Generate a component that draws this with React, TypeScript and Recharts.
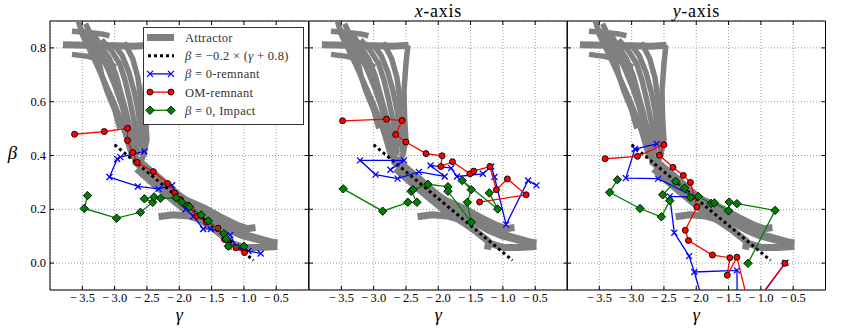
import React from "react";
import { CartesianGrid, Legend, ReferenceArea, Scatter, ScatterChart, XAxis, YAxis } from "recharts";

type Pt = [number, number];

const xTicks = [-3.5, -3, -2.5, -2, -1.5, -1, -0.5];
const yTicks = [0, 0.2, 0.4, 0.6, 0.8];
const xDomain: [number, number] = [-4, 0];
const yDomain: [number, number] = [-0.1, 0.9];
const panelTitles = ["", "x", "y"];

// attractor strands (same in all panels)
const attrFlagMain: Pt[] = [[-3.8, 0.812], [-3.4, 0.81], [-3.0, 0.808], [-2.7, 0.806], [-2.46, 0.81]];
const attrFlagTop: Pt[] = [[-3.66, 0.862], [-3.45, 0.858], [-3.2, 0.852], [-3.08, 0.845]];
const attrFlagLow: Pt[] = [[-3.66, 0.776], [-3.4, 0.768], [-3.15, 0.75], [-2.98, 0.728]];
const attrUp1: Pt[] = [[-3.56, 0.9], [-3.5, 0.85], [-3.4, 0.8], [-3.28, 0.74], [-3.15, 0.67], [-3.02, 0.6], [-2.9, 0.53], [-2.82, 0.47], [-2.76, 0.42], [-2.72, 0.39]];
const attrUp2: Pt[] = [[-3.45, 0.89], [-3.35, 0.84], [-3.22, 0.78], [-3.1, 0.72], [-2.98, 0.65], [-2.88, 0.58], [-2.8, 0.51], [-2.74, 0.45], [-2.7, 0.39]];
const attrUp3: Pt[] = [[-3.35, 0.86], [-3.22, 0.81], [-3.08, 0.76], [-2.98, 0.7], [-2.9, 0.63], [-2.82, 0.56], [-2.75, 0.49], [-2.68, 0.42]];
const attrUp4: Pt[] = [[-3.2, 0.83], [-3.05, 0.79], [-2.92, 0.74], [-2.84, 0.68], [-2.77, 0.61], [-2.7, 0.53], [-2.65, 0.46], [-2.64, 0.4]];
const attrUp5: Pt[] = [[-3.0, 0.81], [-2.88, 0.77], [-2.78, 0.71], [-2.7, 0.64], [-2.64, 0.57], [-2.6, 0.5], [-2.6, 0.43]];
const attrUp6: Pt[] = [[-2.85, 0.82], [-2.72, 0.76], [-2.64, 0.69], [-2.6, 0.62], [-2.56, 0.55], [-2.54, 0.48], [-2.56, 0.41]];
const attrUp7: Pt[] = [[-2.47, 0.81], [-2.5, 0.74], [-2.53, 0.64], [-2.52, 0.54], [-2.5, 0.46], [-2.54, 0.41], [-2.6, 0.37]];
const attrUp8: Pt[] = [[-3.52, 0.87], [-3.4, 0.83], [-3.25, 0.76], [-3.2, 0.7], [-3.12, 0.64], [-3.0, 0.57], [-2.92, 0.5]];
const attrBandTop: Pt[] = [[-2.72, 0.4], [-2.45, 0.34], [-2.2, 0.285], [-1.9, 0.235], [-1.62, 0.205], [-1.35, 0.17], [-1.1, 0.14], [-0.95, 0.128], [-0.82, 0.132]];
const attrBandMid: Pt[] = [[-2.7, 0.38], [-2.4, 0.32], [-2.1, 0.26], [-1.8, 0.2], [-1.5, 0.16], [-1.2, 0.12], [-1.0, 0.1], [-0.75, 0.085], [-0.48, 0.075]];
const attrBandMid2: Pt[] = [[-2.68, 0.39], [-2.3, 0.315], [-2.0, 0.25], [-1.7, 0.19], [-1.4, 0.152], [-1.15, 0.12], [-0.9, 0.1], [-0.6, 0.08]];
const attrBandLow: Pt[] = [[-2.66, 0.35], [-2.4, 0.295], [-2.15, 0.245], [-1.9, 0.195], [-1.62, 0.152], [-1.4, 0.115], [-1.22, 0.08], [-1.24, 0.05]];
const attrWedge: Pt[] = [[-2.32, 0.172], [-2.1, 0.18], [-1.85, 0.175], [-1.6, 0.158]];
const attrTail: Pt[] = [[-1.22, 0.075], [-1.0, 0.058], [-0.75, 0.058], [-0.48, 0.062]];

const thinStrands = [attrFlagTop, attrFlagLow, attrUp1, attrUp2, attrUp3, attrUp4, attrUp5, attrUp6, attrUp7, attrUp8];
const bandStrands = [attrFlagMain, attrBandTop, attrBandMid, attrBandMid2, attrBandLow, attrWedge, attrTail];

const fitLine: Pt[] = [[-3.0, 0.44], [-0.85, 0.01]];

// panel 1 (no axis label)
const p1Blue: Pt[] = [[-2.54, 0.415], [-2.91, 0.394], [-2.96, 0.387], [-3.08, 0.32], [-2.64, 0.285], [-2.32, 0.276], [-2.11, 0.29], [-2.05, 0.25], [-1.9, 0.2], [-1.78, 0.174], [-1.63, 0.127], [-1.51, 0.127], [-1.21, 0.105], [-1.12, 0.06], [-0.93, 0.045], [-0.74, 0.036]];
const p1Red: Pt[] = [[-3.62, 0.479], [-3.16, 0.489], [-2.8, 0.501], [-2.8, 0.456], [-2.72, 0.411], [-2.65, 0.374], [-2.4, 0.34], [-2.18, 0.296], [-2.07, 0.261], [-1.98, 0.236], [-1.87, 0.215], [-1.73, 0.174], [-1.58, 0.153], [-1.4, 0.13], [-1.3, 0.088], [-1.12, 0.057], [-0.99, 0.039]];
const p1Green: Pt[] = [[-3.42, 0.251], [-3.47, 0.203], [-2.97, 0.167], [-2.6, 0.189], [-2.41, 0.226], [-2.54, 0.239], [-2.39, 0.246], [-2.29, 0.241], [-2.05, 0.243], [-1.96, 0.226], [-1.84, 0.209], [-1.66, 0.179], [-1.55, 0.157], [-1.31, 0.11], [-1.27, 0.09], [-1.24, 0.063], [-1.0, 0.063]];

// panel 2 (x-axis)
const p2Blue: Pt[] = [[-2.74, 0.347], [-2.53, 0.382], [-3.21, 0.382], [-2.97, 0.329], [-2.63, 0.314], [-2.3, 0.339], [-1.9, 0.322], [-2.12, 0.363], [-1.8, 0.353], [-1.71, 0.322], [-1.31, 0.332], [-1.18, 0.359], [-1.13, 0.32], [-0.95, 0.143], [-0.61, 0.307], [-0.48, 0.289]];
const p2Red: Pt[] = [[-3.48, 0.529], [-2.8, 0.535], [-2.56, 0.53], [-2.66, 0.478], [-2.5, 0.45], [-2.19, 0.407], [-1.94, 0.399], [-1.96, 0.359], [-1.78, 0.377], [-1.51, 0.332], [-1.45, 0.342], [-1.2, 0.359], [-1.1, 0.273], [-0.93, 0.313], [-0.64, 0.254], [-1.36, 0.227]];
const p2Green: Pt[] = [[-3.47, 0.276], [-2.86, 0.193], [-2.47, 0.226], [-2.33, 0.226], [-2.42, 0.267], [-2.39, 0.273], [-2.16, 0.293], [-1.85, 0.284], [-1.85, 0.267], [-1.49, 0.152], [-1.55, 0.226], [-1.49, 0.273], [-1.63, 0.307], [-1.08, 0.201], [-1.21, 0.261]];

// panel 3 (y-axis)
const p3Blue: Pt[] = [[-2.61, 0.443], [-2.95, 0.424], [-3.09, 0.316], [-2.59, 0.314], [-2.02, 0.245], [-2.41, 0.248], [-2.34, 0.113], [-2.11, 0.026], [-2.03, -0.033], [-1.37, -0.027], [-1.36, -0.35], [-1.54, -0.3], [-0.62, 0.001]];
const p3BlueBranch: Pt[] = [[-2.03, -0.033], [-1.71, -0.3]];
const p3Red: Pt[] = [[-3.41, 0.388], [-2.91, 0.397], [-2.5, 0.44], [-2.57, 0.401], [-2.36, 0.356], [-2.2, 0.326], [-2.09, 0.3], [-1.99, 0.209], [-2.17, 0.122], [-2.12, 0.084], [-1.75, 0.03], [-1.48, 0.02], [-1.52, -0.045], [-1.37, 0.022], [-1.17, -0.175], [-0.63, -0.001]];
const p3Green: Pt[] = [[-3.22, 0.31], [-3.34, 0.263], [-2.87, 0.203], [-2.54, 0.172], [-2.41, 0.232], [-2.52, 0.254], [-2.32, 0.304], [-2.18, 0.279], [-2.09, 0.244], [-1.97, 0.248], [-1.77, 0.222], [-1.72, 0.224], [-1.5, 0.194], [-1.49, 0.227], [-1.37, 0.221], [-0.78, 0.196], [-1.2, -0.001]];

const FONT = '"Liberation Serif"';
const PLOT_TOP = 21;
const PLOT_BOTTOM = 290;
const PLOT_W = 258.5;
const Y_AXIS_W = 50;
const panelLefts = [50, 308.5, 567];

const BLUE = "#0000ff";
const RED = "#ff0000";
const GREEN = "#008000";
const GRAY = "#808080";

const toXY = (pts: Pt[]) => pts.map(([x, y]) => ({ x, y }));

const fmt = (v: number) => (v < 0 ? `\u2212\u2009${Math.abs(v).toFixed(1)}` : v.toFixed(1));

const XMark = ({ cx, cy }: any) => (
  <path
    d={`M${cx - 3},${cy - 3}L${cx + 3},${cy + 3}M${cx - 3},${cy + 3}L${cx + 3},${cy - 3}`}
    stroke={BLUE}
    strokeWidth={1.3}
    fill="none"
  />
);
const Dot = ({ cx, cy }: any) => <circle cx={cx} cy={cy} r={3} fill={RED} stroke="#000" strokeWidth={0.9} />;
const Diamond = ({ cx, cy }: any) => (
  <path d={`M${cx},${cy - 4.2}L${cx + 4.2},${cy}L${cx},${cy + 4.2}L${cx - 4.2},${cy}Z`} fill={GREEN} stroke="#000" strokeWidth={0.9} />
);
const NoMark = () => <g />;

const txt = (size: number, extra: React.CSSProperties = {}): React.CSSProperties => ({ fontFamily: FONT, fontSize: size, ...extra });

const XTick = (props: any) => {
  const { x, payload } = props;
  return (
    <g>
      <line x1={x} x2={x} y1={PLOT_BOTTOM} y2={PLOT_BOTTOM - 4} stroke="#000" />
      <line x1={x} x2={x} y1={PLOT_TOP} y2={PLOT_TOP + 4} stroke="#000" />
      <text x={x} y={302} textAnchor="middle" fill="#000" style={txt(12.5)}>
        {fmt(payload.value)}
      </text>
    </g>
  );
};

const makeYTick = (showLabel: boolean) => (props: any) => {
  const { y, payload } = props;
  const right = Y_AXIS_W + PLOT_W;
  return (
    <g>
      <line x1={Y_AXIS_W} x2={Y_AXIS_W + 4} y1={y} y2={y} stroke="#000" />
      <line x1={right - 4} x2={right} y1={y} y2={y} stroke="#000" />
      {showLabel && (
        <text x={Y_AXIS_W - 4} y={y + 4} textAnchor="end" fill="#000" style={txt(12.5)}>
          {payload.value.toFixed(1)}
        </text>
      )}
    </g>
  );
};

const legendRows = ["Attractor", "OM-remnant"];

const LegendBox = () => {
  const rowY = (i: number) => 10.5 + i * 18.2;
  const tx = 42;
  const ts = txt(12.5, { letterSpacing: 0.3 });
  return (
    <svg width={161} height={98} style={{ display: "block" }}>
      <rect x={0.5} y={0.5} width={160} height={97} fill="#fff" stroke="#333" strokeWidth={1} />
      <rect x={4} y={rowY(0) - 3.5} width={27} height={7} fill={GRAY} />
      <text x={tx} y={rowY(0) + 4.5} fill="#333" style={ts}>{legendRows[0]}</text>

      <line x1={5} x2={31} y1={rowY(1)} y2={rowY(1)} stroke="#000" strokeWidth={3} strokeDasharray="3 3" />
      <text x={tx} y={rowY(1) + 4.5} fill="#333" style={ts}>
        <tspan fontStyle="italic">β</tspan> = −0.2 × (<tspan fontStyle="italic">γ</tspan> + 0.8)
      </text>

      <line x1={7} x2={28} y1={rowY(2)} y2={rowY(2)} stroke={BLUE} strokeWidth={1.3} />
      <XMark cx={7} cy={rowY(2)} />
      <XMark cx={28} cy={rowY(2)} />
      <text x={tx} y={rowY(2) + 4.5} fill="#333" style={ts}>
        <tspan fontStyle="italic">β</tspan> = 0-remnant
      </text>

      <line x1={7} x2={28} y1={rowY(3)} y2={rowY(3)} stroke={RED} strokeWidth={1.3} />
      <Dot cx={7} cy={rowY(3)} />
      <Dot cx={28} cy={rowY(3)} />
      <text x={tx} y={rowY(3) + 4.5} fill="#333" style={ts}>{legendRows[1]}</text>

      <line x1={7} x2={28} y1={rowY(4)} y2={rowY(4)} stroke={GREEN} strokeWidth={1.3} />
      <Diamond cx={7} cy={rowY(4)} />
      <Diamond cx={28} cy={rowY(4)} />
      <text x={tx} y={rowY(4) + 4.5} fill="#333" style={ts}>
        <tspan fontStyle="italic">β</tspan> = 0, Impact
      </text>
    </svg>
  );
};

type PanelProps = {
  index: number;
  blue: Pt[];
  red: Pt[];
  green: Pt[];
  blueExtra?: Pt[];
};

function Panel({ index, blue, red, green, blueExtra }: PanelProps) {
  const title = panelTitles[index];
  const AxisLabels = (props: any) => {
    const vb = props.viewBox || {};
    const cx = vb.x + vb.width / 2;
    return (
      <g>
        <text x={cx} y={320.5} textAnchor="middle" fill="#000" style={txt(18, { fontStyle: "italic" })}>
          γ
        </text>
        {title && (
          <text x={cx} y={17} textAnchor="middle" fill="#000" style={txt(18, { letterSpacing: 0.7 })}>
            <tspan fontStyle="italic">{title}</tspan>-axis
          </text>
        )}
      </g>
    );
  };
  return (
    <div style={{ position: "absolute", left: panelLefts[index] - Y_AXIS_W, top: 0, fontFamily: FONT }}>
      <ScatterChart
        width={Y_AXIS_W + PLOT_W + 12}
        height={330}
        margin={{ top: PLOT_TOP, right: 12, bottom: 0, left: 0 }}
        style={{ fontFamily: FONT }}
      >
        <CartesianGrid stroke="#9a9a9a" strokeDasharray="1 2" />
        <XAxis
          type="number"
          dataKey="x"
          domain={xDomain}
          ticks={xTicks}
          interval={0}
          allowDataOverflow
          height={40}
          axisLine={false}
          tickLine={false}
          tick={XTick}
          label={{ content: AxisLabels }}
        />
        <YAxis
          type="number"
          dataKey="y"
          domain={yDomain}
          ticks={yTicks}
          interval={0}
          allowDataOverflow
          width={Y_AXIS_W}
          axisLine={false}
          tickLine={false}
          tick={makeYTick(index === 0)}
          label={
            index === 0
              ? {
                  content: () => (
                    <text x={12.5} y={159} textAnchor="middle" fill="#000" style={txt(19, { fontStyle: "italic" })}>
                      β
                    </text>
                  ),
                }
              : undefined
          }
        />
        {thinStrands.map((s, i) => (
          <Scatter
            key={`t${i}`}
            data={toXY(s)}
            fill={GRAY}
            line={{ stroke: GRAY, strokeWidth: 5.5, strokeLinejoin: "round" }}
            shape={NoMark}
            isAnimationActive={false}
          />
        ))}
        {bandStrands.map((s, i) => (
          <Scatter
            key={`b${i}`}
            data={toXY(s)}
            fill={GRAY}
            line={{ stroke: GRAY, strokeWidth: 7, strokeLinejoin: "round" }}
            shape={NoMark}
            isAnimationActive={false}
          />
        ))}
        <Scatter
          data={toXY(fitLine)}
          fill="#000"
          line={{ stroke: "#000", strokeWidth: 3, strokeDasharray: "3 3" }}
          shape={NoMark}
          isAnimationActive={false}
        />
        {blueExtra && (
          <Scatter data={toXY(blueExtra)} fill={BLUE} line={{ stroke: BLUE, strokeWidth: 1.3 }} shape={NoMark} isAnimationActive={false} />
        )}
        <Scatter data={toXY(blue)} fill={BLUE} line={{ stroke: BLUE, strokeWidth: 1.3 }} shape={XMark} isAnimationActive={false} />
        <Scatter data={toXY(red)} fill={RED} line={{ stroke: RED, strokeWidth: 1.3 }} shape={Dot} isAnimationActive={false} />
        <Scatter data={toXY(green)} fill={GREEN} line={{ stroke: GREEN, strokeWidth: 1.3 }} shape={Diamond} isAnimationActive={false} />
        <ReferenceArea x1={xDomain[0]} x2={xDomain[1]} y1={yDomain[0]} y2={yDomain[1]} fill="none" stroke="#000" strokeWidth={1} />
        {index === 0 && (
          <Legend
            layout="horizontal"
            verticalAlign="middle"
            align="center"
            content={() => <LegendBox />}
            wrapperStyle={{ left: 142.5, top: 26.5, width: 161, height: 98 }}
          />
        )}
      </ScatterChart>
    </div>
  );
}

export default function App() {
  return (
    <div style={{ position: "absolute", left: 0, top: 0, width: 843, height: 330, background: "#fff", fontFamily: FONT }}>
      <Panel index={0} blue={p1Blue} red={p1Red} green={p1Green} />
      <Panel index={1} blue={p2Blue} red={p2Red} green={p2Green} />
      <Panel index={2} blue={p3Blue} red={p3Red} green={p3Green} blueExtra={p3BlueBranch} />
    </div>
  );
}
